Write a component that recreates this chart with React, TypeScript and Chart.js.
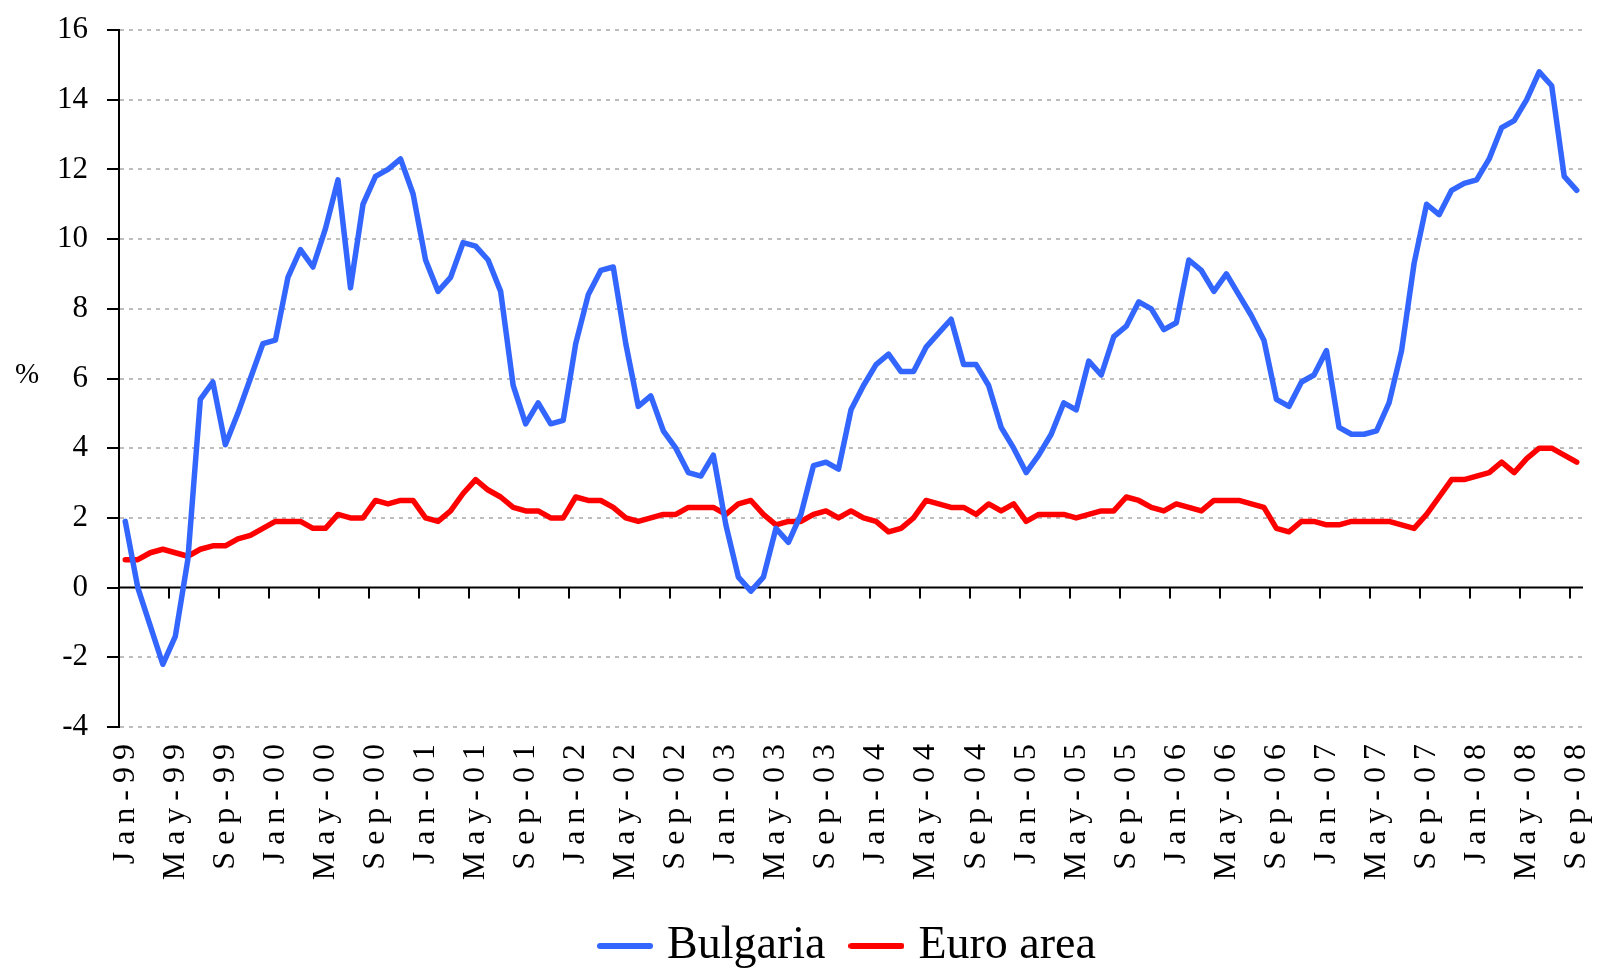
import React, { useEffect, useRef } from 'react';
import { Chart, registerables } from 'chart.js';

Chart.register(...registerables);

// ---- Data ----
const MONTHS = ['Jan', 'Feb', 'Mar', 'Apr', 'May', 'Jun', 'Jul', 'Aug', 'Sep', 'Oct', 'Nov', 'Dec'];
const START_YEAR = 1999;
const N_MONTHS = 117; // Jan-99 .. Sep-08
const categories: string[] = Array.from({ length: N_MONTHS }, (_, i) =>
  `${MONTHS[i % 12]}-${String((START_YEAR + Math.floor(i / 12)) % 100).padStart(2, '0')}`
);
const LABEL_EVERY = 4;

const bulgaria: number[] = [
  1.9, 0.0, -1.1, -2.2, -1.4, 0.8, 5.4, 5.9, 4.1, 5.0, 6.0, 7.0,
  7.1, 8.9, 9.7, 9.2, 10.3, 11.7, 8.6, 11.0, 11.8, 12.0, 12.3, 11.3,
  9.4, 8.5, 8.9, 9.9, 9.8, 9.4, 8.5, 5.8, 4.7, 5.3, 4.7, 4.8,
  7.0, 8.4, 9.1, 9.2, 7.0, 5.2, 5.5, 4.5, 4.0, 3.3, 3.2, 3.8,
  1.8, 0.3, -0.1, 0.3, 1.7, 1.3, 2.1, 3.5, 3.6, 3.4, 5.1, 5.8,
  6.4, 6.7, 6.2, 6.2, 6.9, 7.3, 7.7, 6.4, 6.4, 5.8, 4.6, 4.0,
  3.3, 3.8, 4.4, 5.3, 5.1, 6.5, 6.1, 7.2, 7.5, 8.2, 8.0, 7.4,
  7.6, 9.4, 9.1, 8.5, 9.0, 8.4, 7.8, 7.1, 5.4, 5.2, 5.9, 6.1,
  6.8, 4.6, 4.4, 4.4, 4.5, 5.3, 6.8, 9.3, 11.0, 10.7, 11.4, 11.6,
  11.7, 12.3, 13.2, 13.4, 14.0, 14.8, 14.4, 11.8, 11.4,
];

const euroArea: number[] = [
  0.8, 0.8, 1.0, 1.1, 1.0, 0.9, 1.1, 1.2, 1.2, 1.4, 1.5, 1.7,
  1.9, 1.9, 1.9, 1.7, 1.7, 2.1, 2.0, 2.0, 2.5, 2.4, 2.5, 2.5,
  2.0, 1.9, 2.2, 2.7, 3.1, 2.8, 2.6, 2.3, 2.2, 2.2, 2.0, 2.0,
  2.6, 2.5, 2.5, 2.3, 2.0, 1.9, 2.0, 2.1, 2.1, 2.3, 2.3, 2.3,
  2.1, 2.4, 2.5, 2.1, 1.8, 1.9, 1.9, 2.1, 2.2, 2.0, 2.2, 2.0,
  1.9, 1.6, 1.7, 2.0, 2.5, 2.4, 2.3, 2.3, 2.1, 2.4, 2.2, 2.4,
  1.9, 2.1, 2.1, 2.1, 2.0, 2.1, 2.2, 2.2, 2.6, 2.5, 2.3, 2.2,
  2.4, 2.3, 2.2, 2.5, 2.5, 2.5, 2.4, 2.3, 1.7, 1.6, 1.9, 1.9,
  1.8, 1.8, 1.9, 1.9, 1.9, 1.9, 1.8, 1.7, 2.1, 2.6, 3.1, 3.1,
  3.2, 3.3, 3.6, 3.3, 3.7, 4.0, 4.0, 3.8, 3.6,
];

const Y_MIN = -4;
const Y_MAX = 16;
const Y_STEP = 2;
const Y_TITLE = '%';
const SERIES_NAMES = ['Bulgaria', 'Euro area'];
const SERIES_COLORS = ['#3366ff', '#ff0000'];

const FONT = "'Liberation Serif', 'Times New Roman', serif";

// legend symbol: short thick line with round caps
function makeLegendLine(color: string): HTMLCanvasElement {
  const c = document.createElement('canvas');
  c.width = 56;
  c.height = 8;
  const g = c.getContext('2d')!;
  g.strokeStyle = color;
  g.lineWidth = 6;
  g.lineCap = 'round';
  g.beginPath();
  g.moveTo(3, 4);
  g.lineTo(53, 4);
  g.stroke();
  return c;
}

// zero axis line + category tick marks + "%" title
const axisPlugin = {
  id: 'zeroAxis',
  beforeDatasetsDraw(chart: any) {
    const { ctx, chartArea, scales } = chart;
    const x = scales.x;
    const y = scales.y;
    const y0 = y.getPixelForValue(0);
    const half = (x.getPixelForValue(1) - x.getPixelForValue(0)) / 2;
    ctx.save();
    ctx.strokeStyle = '#000';
    ctx.lineWidth = 2;
    ctx.setLineDash([]);
    ctx.beginPath();
    ctx.moveTo(chartArea.left, y0);
    ctx.lineTo(chartArea.right, y0);
    for (let i = LABEL_EVERY; i < categories.length; i += LABEL_EVERY) {
      const px = Math.round(x.getPixelForValue(i) - half);
      ctx.moveTo(px, y0);
      ctx.lineTo(px, y0 + 11);
    }
    ctx.stroke();
    ctx.restore();
  },
  afterDraw(chart: any) {
    const { ctx, chartArea } = chart;
    ctx.save();
    ctx.fillStyle = '#000';
    ctx.font = `29px ${FONT}`;
    ctx.textAlign = 'center';
    ctx.textBaseline = 'middle';
    ctx.fillText(Y_TITLE, 27, (chartArea.top + chartArea.bottom) / 2 - 3);
    ctx.restore();
  },
};

// wide letter spacing for the rotated month labels
const spacedLabels = {
  id: 'spacedLabels',
  afterUpdate(chart: any) {
    const sc = chart.scales.x;
    if (sc && !sc.__spaced) {
      const orig = sc.drawLabels.bind(sc);
      sc.drawLabels = (area: any) => {
        const c = chart.ctx as any;
        c.save();
        c.letterSpacing = '7px';
        orig(area);
        c.restore();
      };
      sc.__spaced = true;
    }
  },
};

export default function App() {
  const ref = useRef<HTMLCanvasElement>(null);

  useEffect(() => {
    if (!ref.current) return;
    Chart.defaults.font.family = FONT;
    Chart.defaults.color = '#000';
    const seriesData = [bulgaria, euroArea];
    const legendLines = SERIES_COLORS.map(makeLegendLine);
    const chart = new Chart(ref.current, {
      type: 'line',
      data: {
        labels: categories,
        datasets: SERIES_NAMES.map((name, k) => ({
          label: name,
          data: seriesData[k],
          borderColor: SERIES_COLORS[k],
          backgroundColor: SERIES_COLORS[k],
          borderWidth: 5.5,
          pointRadius: 0,
          pointHoverRadius: 0,
          tension: 0,
          borderCapStyle: 'round',
          borderJoinStyle: 'round',
          fill: false,
        })),
      },
      options: {
        responsive: false,
        animation: false,
        layout: { padding: { left: 0, right: 15, top: 30, bottom: 0 } },
        plugins: {
          tooltip: { enabled: false },
          legend: {
            position: 'bottom',
            fullSize: false,
            labels: {
              usePointStyle: true,
              pointStyleWidth: 38,
              boxHeight: 8,
              padding: 32,
              color: '#000',
              font: { size: 46, family: FONT },
              generateLabels: (c: any) => {
                const items = (Chart.defaults.plugins.legend.labels as any).generateLabels(c);
                items.forEach((it: any, k: number) => {
                  it.pointStyle = legendLines[k];
                  it.rotation = 0;
                });
                return items;
              },
            },
          },
        },
        scales: {
          x: {
            type: 'category',
            offset: true,
            grid: { display: false, drawTicks: false, offset: true },
            border: { display: false },
            ticks: {
              autoSkip: false,
              minRotation: 90,
              maxRotation: 90,
              padding: 10,
              color: '#000',
              font: { size: 32, family: FONT },
              callback: (_v: any, i: number) => (i % LABEL_EVERY === 0 ? categories[i] : ''),
            },
            afterFit: (s: any) => {
              s.height = 164;
              s.paddingLeft = 0;
              s.paddingRight = 0;
            },
          },
          y: {
            min: Y_MIN,
            max: Y_MAX,
            ticks: { stepSize: Y_STEP, padding: 19, color: '#000', font: { size: 31, family: FONT } },
            grid: {
              color: (c: any) => (c.tick && c.tick.value === 0 ? 'rgba(0,0,0,0)' : '#bdbdbd'),
              lineWidth: 2,
              tickColor: '#000',
              tickLength: 12,
              tickWidth: 2,
              tickBorderDash: [],
            },
            border: { display: true, color: '#000', width: 2, dash: [4, 5] },
            afterFit: (s: any) => {
              s.width = 119;
              s.paddingTop = 0;
              s.paddingBottom = 0;
            },
          },
        },
      } as any,
      plugins: [axisPlugin, spacedLabels],
    } as any);
    return () => chart.destroy();
  }, []);

  return (
    <div
      style={{
        position: 'fixed',
        left: 0,
        top: 0,
        width: 1598,
        height: 972,
        overflow: 'hidden',
        background: '#fff',
      }}
    >
      <canvas ref={ref} width={1598} height={979} style={{ display: 'block', width: 1598, height: 979 }} />
    </div>
  );
}
